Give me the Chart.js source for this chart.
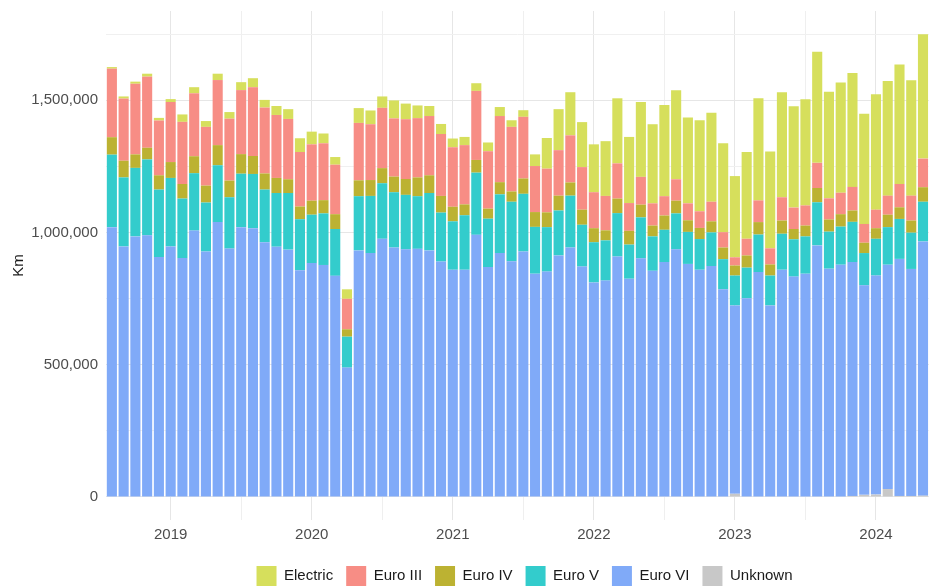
<!DOCTYPE html>
<html>
<head>
<meta charset="utf-8">
<title>Km by emission class</title>
<script src="https://cdn.jsdelivr.net/npm/chart.js@4.4.1/dist/chart.umd.min.js"></script>
<style>
  body { margin: 0; background: #fff; }
  #wrap { width: 929px; height: 588px; }
</style>
</head>
<body>
<div id="wrap"><canvas id="kmChart" width="929" height="588"></canvas></div>
<script>
// months, Aug 2018 - May 2024
var months = [
  "2018-08","2018-09","2018-10","2018-11","2018-12",
  "2019-01","2019-02","2019-03","2019-04","2019-05","2019-06","2019-07","2019-08","2019-09","2019-10","2019-11","2019-12",
  "2020-01","2020-02","2020-03","2020-04","2020-05","2020-06","2020-07","2020-08","2020-09","2020-10","2020-11","2020-12",
  "2021-01","2021-02","2021-03","2021-04","2021-05","2021-06","2021-07","2021-08","2021-09","2021-10","2021-11","2021-12",
  "2022-01","2022-02","2022-03","2022-04","2022-05","2022-06","2022-07","2022-08","2022-09","2022-10","2022-11","2022-12",
  "2023-01","2023-02","2023-03","2023-04","2023-05","2023-06","2023-07","2023-08","2023-09","2023-10","2023-11","2023-12",
  "2024-01","2024-02","2024-03","2024-04","2024-05"
];

// km, in thousands
var electric = [6,8,8,11,10, 11,28,23,22,24,25,30,34,29,34,37,52, 48,37,29,36,56,52,43,68,59,48,38,38,
  33,31,29,33,34,25,25,44,116,155,163,170, 181,207,246,250,283,299,345,336,324,344,336,336,
  307,328,386,366,397,383,401,420,403,417,431,417, 436,433,452,436,470];
var euro3 = [259,235,267,269,207, 227,235,238,222,246,234,242,260,249,238,228,206, 213,215,187,115,217,211,228,220,226,224,224,234,
  225,224,261,217,250,244,233,174,165,172,178,161, 136,130,133,105,105,84,73,81,64,63,74,58,
  31,63,82,61,88,81,76,95,80,81,89,71, 70,72,88,94,108];
var euro4 = [66,63,51,44,54, 60,55,64,64,76,63,74,68,61,57,52,48, 53,50,56,28,60,60,57,59,60,71,67,63,
  55,41,48,38,46,39,58,56,56,56,50,57, 53,38,55,52,48,41,54,48,44,42,42,44,
  38,46,47,42,50,39,41,54,46,47,43,39, 40,47,44,46,55];
var euro5 = [274,261,259,287,255, 259,225,217,185,215,194,202,205,199,203,214,193, 183,195,177,117,205,216,210,209,206,199,217,185,
  183,206,235,183,222,225,218,177,168,170,196,158, 152,152,164,129,155,130,122,136,121,116,127,114,
  113,116,142,113,136,141,141,163,140,144,152,122, 139,142,151,137,150];
var euro6 = [1020,947,985,989,907, 947,903,1007,928,1039,939,1020,1016,963,946,935,857, 884,877,836,489,932,922,976,943,936,938,932,890,
  859,859,991,869,922,891,928,844,852,913,943,871, 811,818,909,825,902,855,888,936,881,859,873,785,
  712,751,850,724,859,833,844,951,863,878,884,792, 828,848,896,858,961];
var unknown = [0,0,0,0,0, 0,0,0,0,0,0,0,0,0,0,0,0, 0,0,0,0,0,0,0,0,0,0,0,0,
  0,0,0,0,0,0,0,0,0,0,0,0, 0,0,0,0,0,0,0,0,0,0,0,0,
  12,0,0,0,0,0,0,0,0,0,4,8, 9,30,4,4,5];

// labelled ticks and the minor grid lines in between
var yTicks = [0, 500000, 1000000, 1500000];
var yGrid = [0, 250000, 500000, 750000, 1000000, 1250000, 1500000, 1750000];

function km(arr) {
  return arr.map(function (v) { return v * 1000; });
}

function commas(n) {
  return String(n).replace(/\B(?=(\d{3})+(?!\d))/g, ',');
}

var fontFam = "'Liberation Sans', Arial, sans-serif";

// move the legend over and down a bit, it sits lower right in the original
var legendShift = {
  id: 'legendShift',
  afterLayout: function (chart) {
    var lg = chart.legend;
    lg.left += 60; lg.right += 60;
    lg.top += 8; lg.bottom += 8;
  }
};

var ctx = document.getElementById('kmChart').getContext('2d');
var kmChart = new Chart(ctx, {
  type: 'bar',
  data: {
    labels: months,
    datasets: [
      { label: 'Unknown', data: km(unknown), backgroundColor: '#c8c8c8' },
      { label: 'Euro VI', data: km(euro6), backgroundColor: '#80aaf8' },
      { label: 'Euro V', data: km(euro5), backgroundColor: '#33cccc' },
      { label: 'Euro IV', data: km(euro4), backgroundColor: '#bcb232' },
      { label: 'Euro III', data: km(euro3), backgroundColor: '#f78d85' },
      { label: 'Electric', data: km(electric), backgroundColor: '#d6df5c' }
    ]
  },
  options: {
    responsive: false,
    animation: false,
    layout: { padding: { top: 10, left: 0, right: 0, bottom: 0 } },
    datasets: {
      bar: { categoryPercentage: 1, barPercentage: 0.86, borderWidth: 0 }
    },
    plugins: {
      tooltip: { enabled: false },
      legend: {
        position: 'bottom',
        reverse: true,
        labels: {
          boxWidth: 20,
          boxHeight: 20,
          padding: 13,
          color: '#1a1a1a',
          font: { family: fontFam, size: 15 }
        }
      }
    },
    scales: {
      x: {
        stacked: true,
        offset: true,
        border: { display: false },
        grid: {
          offset: false,
          drawTicks: false,
          color: function (c) {
            var lab = months[c.index] || '';
            if (lab.slice(5) === '01') return '#e6e6e6';
            if (lab.slice(5) === '07') return '#efefef';
            return 'rgba(0,0,0,0)';
          }
        },
        ticks: {
          autoSkip: false,
          maxRotation: 0,
          padding: 6,
          color: '#4d4d4d',
          font: { family: fontFam, size: 15 },
          callback: function (val, i) {
            var lab = months[i];
            return lab.slice(5) === '01' ? lab.slice(0, 4) : '';
          }
        },
        afterFit: function (s) { s.height = 25; }
      },
      y: {
        stacked: true,
        min: -87000,
        max: 1837000,
        border: { display: false },
        afterBuildTicks: function (s) {
          s.ticks = yGrid.map(function (v) { return { value: v }; });
        },
        grid: {
          drawTicks: false,
          color: function (c) {
            if (!c.tick) return 'rgba(0,0,0,0)';
            return yTicks.indexOf(c.tick.value) >= 0 ? '#e6e6e6' : '#f0f0f0';
          }
        },
        ticks: {
          padding: 8,
          color: '#4d4d4d',
          // small lineHeight so the top tick doesn't push the plot down
          font: { family: fontFam, size: 15, lineHeight: 0.4 },
          callback: function (v) {
            return yTicks.indexOf(v) >= 0 ? commas(v) : '';
          }
        },
        title: {
          display: true,
          text: 'Km',
          color: '#1a1a1a',
          padding: { top: 10, bottom: 4 },
          font: { family: fontFam, size: 15 }
        },
        afterFit: function (s) { s.width = 106; }
      }
    }
  },
  plugins: [legendShift]
});
</script>
</body>
</html>
